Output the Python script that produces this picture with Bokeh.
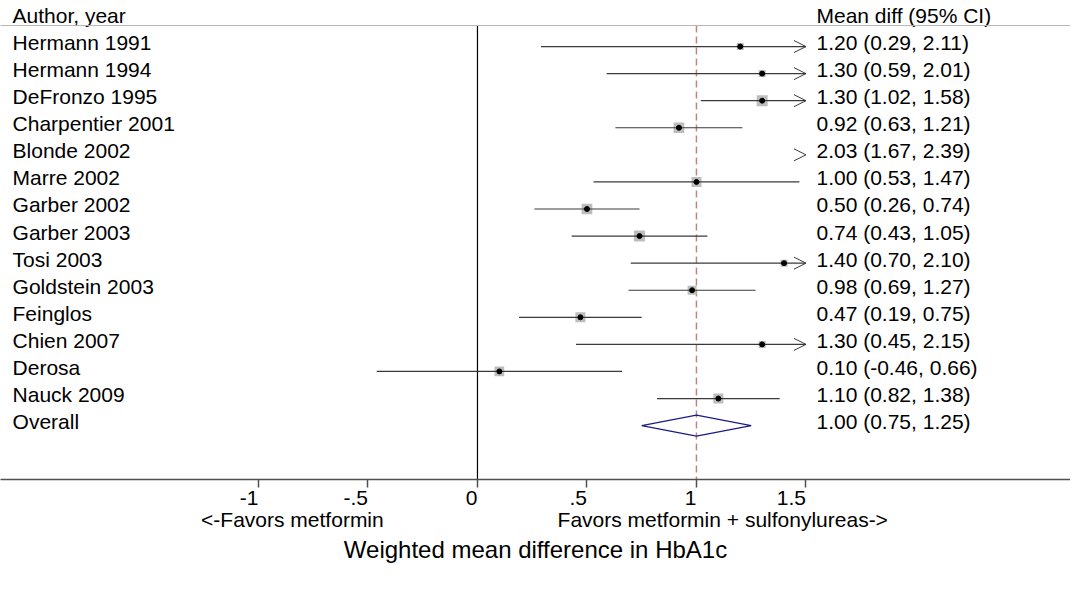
from bokeh.plotting import figure
from bokeh.models import (Range1d, LinearAxis, FixedTicker, CustomJSTickFormatter,
                          ColumnDataSource, Arrow, OpenHead, Span)
from bokeh.core.properties import value
from bokeh.embed import file_html
from bokeh.resources import INLINE

# ---------------- data ----------------
studies = ["Hermann 1991", "Hermann 1994", "DeFronzo 1995", "Charpentier 2001",
           "Blonde 2002", "Marre 2002", "Garber 2002", "Garber 2003", "Tosi 2003",
           "Goldstein 2003", "Feinglos", "Chien 2007", "Derosa", "Nauck 2009"]
mean_diff = [1.20, 1.30, 1.30, 0.92, 2.03, 1.00, 0.50, 0.74, 1.40, 0.98, 0.47, 1.30, 0.10, 1.10]
ci_low = [0.29, 0.59, 1.02, 0.63, 1.67, 0.53, 0.26, 0.43, 0.70, 0.69, 0.19, 0.45, -0.46, 0.82]
ci_high = [2.11, 2.01, 1.58, 1.21, 2.39, 1.47, 0.74, 1.05, 2.10, 1.27, 0.75, 2.15, 0.66, 1.38]
weights = [4.0, 4.0, 9.9, 9.3, 6.6, 8.2, 9.3, 9.9, 4.0, 6.6, 8.2, 4.0, 7.7, 8.2]

overall_label = "Overall"
overall_mean = 1.00
overall_low = 0.75
overall_high = 1.25

header_left = "Author, year"
header_right = "Mean diff (95% CI)"
x_ticks = [-1, -0.5, 0, 0.5, 1, 1.5]
favor_labels = ["<-Favors metformin", "Favors metformin + sulfonylureas->"]
favor_pos = [-0.845, 1.12]
x_title = "Weighted mean difference in HbA1c"

# ---------------- layout constants ----------------
FONT = "Liberation Sans"
X_LEFT, X_RIGHT = -2.178, 2.708
Y_TOP, Y_BOTTOM = -1.70, 15.99
CLIP = 1.5
TXT_LEFT_X = -2.123
TXT_RIGHT_X = 1.548
TXT_DY = -0.15
HEADER_Y = -1.145
HEADER_LINE_Y = -0.775

n = len(studies)
rows = list(range(n))
overall_row = n

p = figure(frame_width=1070, frame_height=479,
           x_range=Range1d(X_LEFT, X_RIGHT), y_range=Range1d(Y_BOTTOM, Y_TOP),
           output_backend="svg", toolbar_location=None, y_axis_location=None,
           min_border_left=0, min_border_right=0, min_border_top=0, min_border_bottom=0,
           outline_line_color=None, background_fill_color="white",
           border_fill_color="white")
p.grid.visible = False

# header rule
p.add_layout(Span(location=HEADER_LINE_Y, dimension="width", line_color="#b4b4b4", line_width=1))

# null line and overall line
p.segment(x0=[0], y0=[HEADER_LINE_Y], x1=[0], y1=[Y_BOTTOM], line_color="black", line_width=1.2)
p.segment(x0=[overall_mean], y0=[HEADER_LINE_Y], x1=[overall_mean], y1=[Y_BOTTOM],
          line_color="#be8585", line_width=1.5, line_dash="7 4")

# squares (within clip)
sq_x = [m for m in mean_diff if m <= CLIP]
sq_y = [r for r, m in zip(rows, mean_diff) if m <= CLIP]
sq_s = [3.5 * w ** 0.5 for w, m in zip(weights, mean_diff) if m <= CLIP]
p.scatter(x=sq_x, y=sq_y, size=sq_s, marker="square", fill_color="#bdbdbd", line_color=None)

# CI lines
seg = [(lo, min(hi, CLIP), r) for lo, hi, r in zip(ci_low, ci_high, rows) if lo < CLIP]
p.segment(x0=[s[0] for s in seg], x1=[s[1] for s in seg], y0=[s[2] for s in seg],
          y1=[s[2] for s in seg], line_color="#3a3a3a", line_width=1.2)

# arrowheads for clipped CIs
arr_rows = [r for r, hi in zip(rows, ci_high) if hi > CLIP]
arr_src = ColumnDataSource(dict(xs=[CLIP - 0.1] * len(arr_rows), xe=[CLIP] * len(arr_rows),
                                y=arr_rows))
p.add_layout(Arrow(end=OpenHead(size=12, line_color="#3a3a3a", line_width=1),
                   x_start="xs", y_start="y", x_end="xe", y_end="y",
                   source=arr_src, line_alpha=0))

# point estimates
p.scatter(x=sq_x, y=sq_y, size=5, marker="circle", color="black")

# overall diamond
p.patch(x=[overall_low, overall_mean, overall_high, overall_mean],
        y=[overall_row, overall_row - 0.39, overall_row, overall_row + 0.39],
        fill_color=None, line_color="#1c1c86", line_width=1.2)

# texts
labels_left = studies + [overall_label]
est = [f"{m:.2f} ({l:.2f}, {h:.2f})" for m, l, h in zip(mean_diff, ci_low, ci_high)]
est.append(f"{overall_mean:.2f} ({overall_low:.2f}, {overall_high:.2f})")
ty = [r + TXT_DY for r in rows + [overall_row]]
common = dict(text_font=value(FONT), text_font_size="21px", text_baseline="middle",
              text_align="left", text_color="black")
p.text(x=[TXT_LEFT_X] * len(ty), y=ty, text=labels_left, **common)
p.text(x=[TXT_RIGHT_X] * len(ty), y=ty, text=est, **common)
p.text(x=[TXT_LEFT_X], y=[HEADER_Y], text=[header_left], **common)
p.text(x=[TXT_RIGHT_X], y=[HEADER_Y], text=[header_right], **common)

# main x axis
ax = p.xaxis[0]
ax.ticker = FixedTicker(ticks=x_ticks)
ax.formatter = CustomJSTickFormatter(
    code="if (tick == 0) return '0'; return tick.toString().replace(/^(-?)0\\./, '$1.');")
ax.minor_tick_line_color = None
ax.major_tick_in = 0
ax.major_tick_out = 8
ax.major_tick_line_color = "#505050"
ax.major_tick_line_width = 1.5
ax.axis_line_color = "#505050"
ax.axis_line_width = 1.5
ax.major_label_text_font = FONT
ax.major_label_text_font_size = "21px"
ax.major_label_text_color = "black"
ax.major_label_standoff = 10
ax.major_label_orientation = 0.0001

# second axis: favours labels + title
ax2 = LinearAxis(ticker=FixedTicker(ticks=favor_pos),
                 formatter=CustomJSTickFormatter(args=dict(labels=favor_labels),
                                                 code="return labels[index];"))
ax2.axis_line_color = None
ax2.major_tick_line_color = None
ax2.minor_tick_line_color = None
ax2.major_tick_in = 0
ax2.major_tick_out = 0
ax2.major_label_standoff = -7
ax2.major_label_text_font = FONT
ax2.major_label_text_font_size = "21px"
ax2.major_label_text_color = "black"
ax2.axis_label = x_title
ax2.axis_label_text_font = FONT
ax2.axis_label_text_font_size = "24px"
ax2.axis_label_text_font_style = "normal"
ax2.axis_label_text_color = "black"
ax2.axis_label_standoff = 2
p.add_layout(ax2, "below")

open("out.html", "w").write(file_html(p, INLINE))
